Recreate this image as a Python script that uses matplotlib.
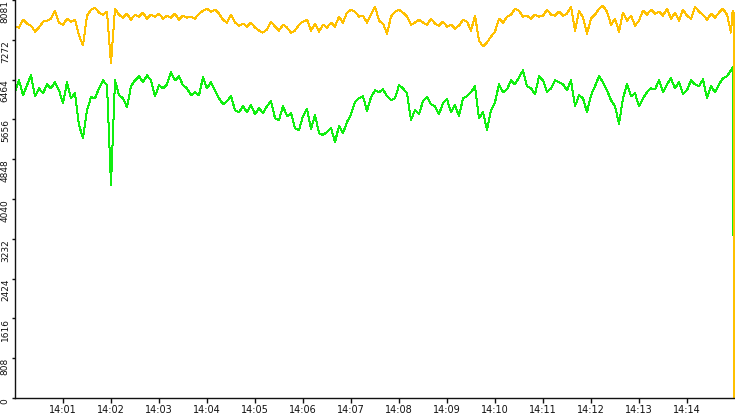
import matplotlib
matplotlib.use("Agg")
import matplotlib.pyplot as plt
import numpy as np

# time in seconds after 14:00:00; samples every 5 s plus final readings
t_step = 5.0
n_main = 180

orange_vals = [
    7541, 7521, 7682, 7601, 7561, 7440, 7521, 7642, 7662, 7702,
    7864, 7622, 7581, 7702, 7642, 7682, 7359, 7157, 7763, 7884,
    7925, 7824, 7783, 7844, 6793, 7904, 7783, 7723, 7803, 7682,
    7783, 7743, 7824, 7702, 7783, 7743, 7803, 7702, 7763, 7723,
    7803, 7682, 7763, 7723, 7743, 7702, 7803, 7864, 7904, 7844,
    7884, 7803, 7682, 7622, 7783, 7622, 7561, 7601, 7541, 7622,
    7521, 7460, 7420, 7480, 7642, 7541, 7460, 7581, 7521, 7420,
    7460, 7581, 7642, 7682, 7460, 7601, 7440, 7581, 7521, 7622,
    7541, 7743, 7622, 7824, 7884, 7844, 7743, 7763, 7622, 7783,
    7945, 7662, 7601, 7399, 7743, 7844, 7884, 7824, 7743, 7581,
    7622, 7682, 7622, 7581, 7702, 7601, 7561, 7642, 7541, 7581,
    7500, 7561, 7682, 7642, 7460, 7763, 7258, 7137, 7218, 7339,
    7440, 7702, 7622, 7743, 7783, 7904, 7864, 7743, 7763, 7702,
    7783, 7743, 7763, 7884, 7783, 7763, 7844, 7763, 7803, 7945,
    7460, 7864, 7723, 7399, 7702, 7783, 7904, 7965, 7844, 7581,
    7702, 7440, 7824, 7662, 7763, 7561, 7662, 7864, 7783, 7884,
    7803, 7844, 7763, 7904, 7702, 7824, 7662, 7884, 7763, 7702,
    7945, 7844, 7783, 7682, 7803, 7723, 7824, 7904, 7783, 7420,
]
orange_tail_t = [897.0, 898.6, 898.8]
orange_tail_v = [7864, 7800, 0]

green_vals = [
    6208, 6450, 6147, 6349, 6551, 6127, 6288, 6187, 6369, 6288,
    6410, 6248, 5985, 6410, 6086, 6187, 5541, 5278, 5844, 6107,
    6086, 6288, 6450, 6349, 4329, 6450, 6147, 6086, 5905, 6329,
    6450, 6531, 6410, 6551, 6450, 6127, 6349, 6288, 6369, 6612,
    6450, 6531, 6349, 6288, 6147, 6208, 6147, 6511, 6288, 6410,
    6248, 6086, 5965, 6026, 6127, 5844, 5804, 5925, 5804, 5945,
    5763, 5884, 5783, 5925, 6026, 5682, 5642, 5925, 5723, 5783,
    5480, 5440, 5723, 5864, 5460, 5743, 5379, 5339, 5400, 5480,
    5198, 5521, 5379, 5602, 5763, 6006, 6086, 6127, 5824, 6107,
    6248, 6208, 6268, 6127, 6046, 6086, 6349, 6288, 6187, 5642,
    5844, 5763, 6026, 6107, 5965, 5925, 5763, 5985, 6066, 5804,
    5945, 5723, 6086, 6127, 6208, 6329, 5682, 5804, 5440, 5844,
    6006, 6369, 6208, 6268, 6450, 6369, 6511, 6652, 6329, 6288,
    6167, 6531, 6450, 6208, 6288, 6450, 6410, 6369, 6248, 6450,
    5925, 6147, 6086, 5804, 6147, 6329, 6531, 6410, 6248, 6046,
    5925, 5561, 6086, 6369, 6127, 6187, 5925, 6086, 6208, 6288,
    6268, 6450, 6208, 6369, 6490, 6288, 6410, 6167, 6248, 6450,
    6369, 6329, 6470, 6086, 6329, 6208, 6369, 6490, 6531, 6652,
]
green_tail_t = [897.0, 897.9, 898.0]
green_tail_v = [6713, 3925, 3319]

y_ticks = [0, 808, 1616, 2424, 3232, 4040, 4848, 5656, 6464, 7272, 8081]
x_tick_labels = ["14:01", "14:02", "14:03", "14:04", "14:05", "14:06", "14:07",
                 "14:08", "14:09", "14:10", "14:11", "14:12", "14:13", "14:14"]

t_main = np.arange(n_main) * t_step
t_orange = np.concatenate([t_main, orange_tail_t])
v_orange = np.concatenate([orange_vals, orange_tail_v])
t_green = np.concatenate([t_main, green_tail_t])
v_green = np.concatenate([green_vals, green_tail_v])

W, H = 735, 415
fig = plt.figure(figsize=(W / 100, H / 100), dpi=100)
fig.patch.set_facecolor("white")
ax = fig.add_axes([15 / W, 17 / H, 720 / W, 398 / H])
ax.set_facecolor("white")

ax.plot(t_green, v_green, color="#10ee10", lw=0.72, antialiased=False)
ax.plot(t_orange, v_orange, color="#ffc000", lw=0.72, antialiased=False)

ax.set_xlim(0, 900)
ax.set_ylim(0, 8081)

for s in ("top", "right"):
    ax.spines[s].set_visible(False)
for s in ("left", "bottom"):
    ax.spines[s].set_color("#111111")
    ax.spines[s].set_linewidth(1.0)

ax.set_xticks([60 * (i + 1) for i in range(len(x_tick_labels))])
ax.set_xticklabels(x_tick_labels, fontsize=7, color="#111111", family="DejaVu Sans")
ax.set_yticks(y_ticks)
ax.set_yticklabels([str(v) for v in y_ticks], rotation=90, va="top", ha="right",
                   fontsize=6.5, color="#111111",
                   family=["Liberation Sans Narrow", "DejaVu Sans"])
ax.tick_params(axis="x", length=3.5, width=1, color="#111111", pad=1.5)
ax.tick_params(axis="y", length=2.5, width=1, color="#111111", pad=1.2)

fig.savefig("out.png", dpi=100, facecolor="white")
